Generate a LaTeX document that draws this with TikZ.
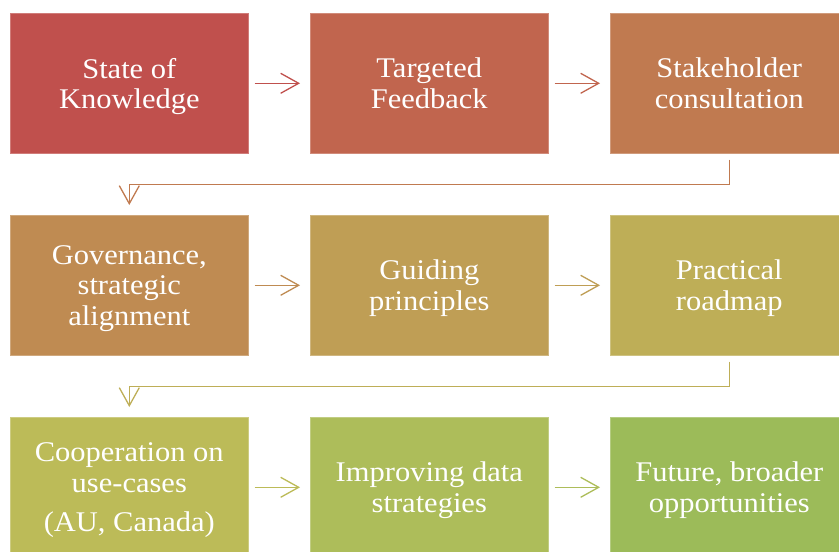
\documentclass[tikz,border=0pt]{standalone}
\usepackage{fontspec}
\setmainfont[FakeStretch=1.07]{Liberation Serif}
\usetikzlibrary{arrows.meta}
\definecolor{cA}{HTML}{C0504D}
\definecolor{cB}{HTML}{C1654E}
\definecolor{cC}{HTML}{C07A50}
\definecolor{cD}{HTML}{BF8B52}
\definecolor{cE}{HTML}{BF9E55}
\definecolor{cF}{HTML}{BEAE57}
\definecolor{cG}{HTML}{BCBB58}
\definecolor{cH}{HTML}{ADBD5A}
\definecolor{cI}{HTML}{9CBB59}
\newcommand\lastdp{\vphantom{gp(}}
\tikzset{
  stepbox/.style={rectangle, fill=#1, draw=#1!75!white, line width=0.6pt,
    minimum width=238pt, minimum height=140pt, inner sep=0pt, anchor=north west,
    text=white, align=center, font=\fontsize{28.5}{30.5}\selectfont},
  boxtext/.style={text=white, align=center, font=\fontsize{28.5}{30.5}\selectfont, inner sep=0pt},
  arr/.style={draw=#1, line width=1.3pt, -{Straight Barb[length=18pt,width=20pt,line width=1.3pt]},
    shorten <=6pt, shorten >=10pt}
}
\begin{document}
\begin{tikzpicture}[x=1pt,y=1pt]
\useasboundingbox (0,0) rectangle (839,-552);
\node[stepbox=cA] (a) at (10,-13) {};
\node[stepbox=cB] (b) at (310,-13) {};
\node[stepbox=cC] (c) at (610,-13) {};
\node[stepbox=cD] (d) at (10,-215) {};
\node[stepbox=cE] (e) at (310,-215) {};
\node[stepbox=cF] (f) at (610,-215) {};
\node[stepbox=cG] (g) at (10,-417) {};
\node[stepbox=cH] (h) at (310,-417) {};
\node[stepbox=cI] (i) at (610,-417) {};
\node[boxtext, yshift=-3pt] (ta) at (a.center) {State of\\Knowledge\lastdp};
\node[boxtext, yshift=-3pt] (tb) at (b.center) {Targeted\\Feedback\lastdp};
\node[boxtext, yshift=-3pt] (tc) at (c.center) {Stakeholder\\consultation\lastdp};
\node[boxtext, yshift=-3pt] (td) at (d.center) {Governance,\\strategic\\alignment\lastdp};
\node[boxtext, yshift=-3pt] (te) at (e.center) {Guiding\\principles\lastdp};
\node[boxtext, yshift=-3pt] (tf) at (f.center) {Practical\\roadmap\lastdp};
\node[boxtext, yshift=-3pt] (tg) at (g.center) {Cooperation on\\use-cases\\[9pt](AU, Canada)\lastdp};
\node[boxtext, yshift=-3pt] (th) at (h.center) {Improving data\\strategies\lastdp};
\node[boxtext, yshift=-3pt] (ti) at (i.center) {Future, broader\\opportunities\lastdp};
\draw[arr=cA] (a) -- (b);
\draw[arr=cB] (b) -- (c);
\draw[arr=cD] (d) -- (e);
\draw[arr=cE] (e) -- (f);
\draw[arr=cG] (g) -- (h);
\draw[arr=cH] (h) -- (i);
\draw[arr=cC] (c.south) -- ++(0,-31) -| (d.north);
\draw[arr=cF] (f.south) -- ++(0,-31) -| (g.north);
\end{tikzpicture}
\end{document}
